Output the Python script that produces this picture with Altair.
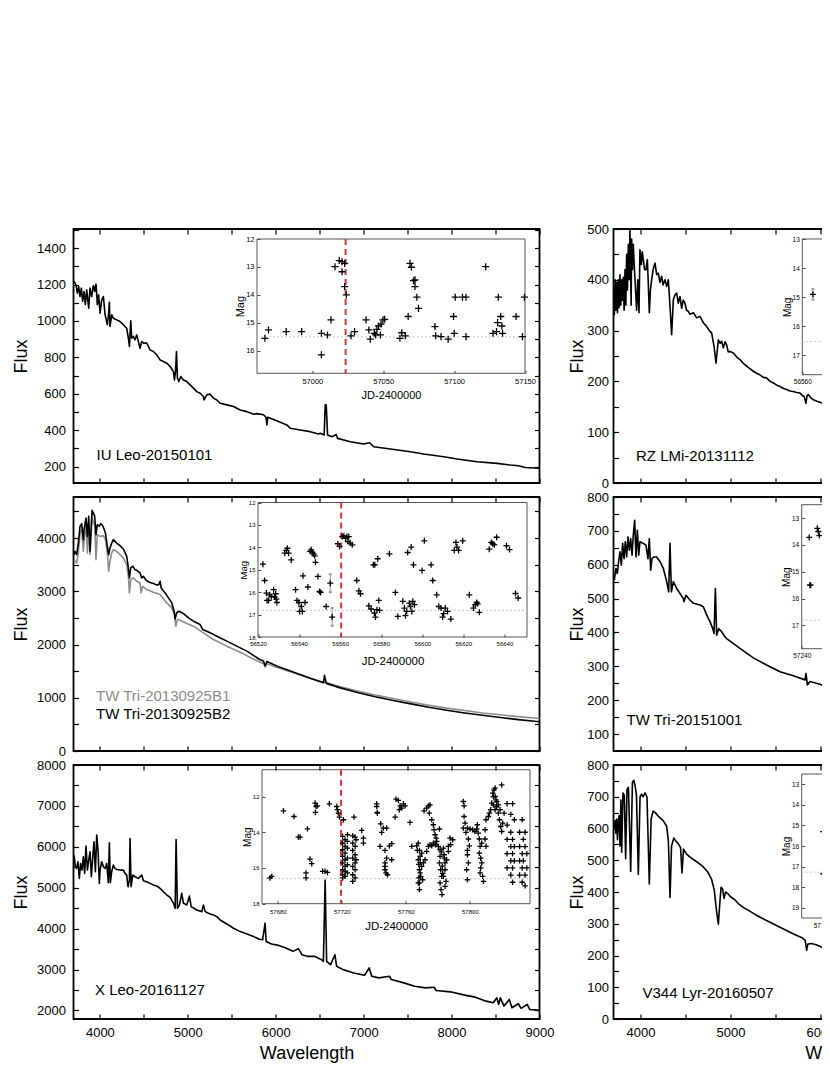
import altair as alt
import pandas as pd

FONT = "Liberation Sans"
CROSS = "M-1,0L1,0M0,-1L0,1"
CAP = "M-1,0L1,0"

# ---------------- spectra (wavelength, flux) ----------------
iu_wl = [3706, 3728, 3744, 3759, 3774, 3789, 3804, 3820, 3835, 3850,
         3873, 3888, 3907, 3926, 3941, 3956, 3971, 3986, 4002, 4021,
         4040, 4059, 4085, 4100, 4108, 4115, 4135, 4153, 4191, 4229,
         4267, 4305, 4324, 4336, 4351, 4362, 4381, 4400, 4419, 4457,
         4476, 4495, 4533, 4571, 4609, 4647, 4685, 4723, 4761, 4799,
         4837, 4848, 4860, 4871, 4882, 4897, 4920, 4951, 4989, 5026,
         5064, 5102, 5140, 5178, 5185, 5216, 5254, 5292, 5330, 5368,
         5444, 5520, 5596, 5672, 5748, 5785, 5861, 5891, 5899, 5910,
         6012, 6126, 6164, 6278, 6392, 6487, 6506, 6551, 6563, 6574,
         6590, 6639, 6688, 6704, 6848, 7000, 7068, 7114, 7304, 7531,
         7683, 7911, 8063, 8291, 8518, 8668, 8760, 8839, 9000]
iu_flux = [1217, 1198, 1153, 1189, 1134, 1180, 1107, 1162, 1089, 1171,
           1070, 1180, 1134, 1195, 1162, 1202, 1089, 1143, 1043, 1116,
           1134, 1034, 979, 1043, 1103, 970, 1034, 1015, 1006, 997,
           979, 960, 905, 860, 1001, 905, 915, 896, 924, 850,
           887, 878, 878, 841, 832, 814, 786, 777, 768, 750,
           722, 676, 722, 832, 687, 667, 695, 676, 667, 649,
           631, 612, 603, 585, 566, 594, 598, 576, 566, 548,
           539, 530, 511, 502, 488, 491, 485, 470, 429, 471,
           452, 429, 411, 401, 392, 379, 383, 374, 539, 539,
           374, 364, 377, 355, 337, 324, 331, 309, 297, 282,
           269, 254, 242, 227, 218, 209, 205, 195, 191]

tw13_b2_wl = [3706, 3717, 3736, 3755, 3774, 3793, 3812, 3820, 3842, 3858,
              3873, 3888, 3911, 3926, 3941, 3956, 3971, 3994, 4009, 4032,
              4047, 4063, 4085, 4100, 4115, 4135, 4153, 4191, 4229, 4267,
              4305, 4324, 4336, 4351, 4374, 4400, 4419, 4457, 4476, 4495,
              4525, 4563, 4609, 4647, 4670, 4685, 4697, 4742, 4780, 4818,
              4845, 4856, 4874, 4897, 4951, 5008, 5064, 5140, 5170, 5254,
              5330, 5444, 5557, 5672, 5816, 5860, 5880, 5900, 6034, 6237,
              6400, 6543, 6555, 6575, 6725, 6929, 7132, 7336, 7538, 7742,
              7945, 8149, 8352, 8555, 8758, 9000]
tw13_b2_flux = [3688, 3750, 3688, 3906, 4219, 4269, 3969, 4156, 4375, 4031,
                4406, 3750, 4519, 4469, 4406, 4063, 4250, 4219, 4269, 4231,
                4169, 4094, 3844, 3688, 3813, 3906, 3969, 3906, 3856, 3794,
                3656, 3438, 3250, 3438, 3469, 3406, 3394, 3344, 3250, 3281,
                3206, 3169, 3144, 3119, 3125, 3188, 3063, 2969, 2875, 2781,
                2625, 2481, 2594, 2625, 2581, 2500, 2438, 2375, 2281, 2219,
                2156, 2063, 1969, 1875, 1719, 1690, 1600, 1680, 1580, 1460,
                1360, 1280, 1420, 1270, 1190, 1100, 1020, 950, 885, 820,
                765, 715, 670, 630, 590, 550]

tw13_b1_wl = [3706, 3736, 3755, 3774, 3793, 3812, 3827, 3842, 3858, 3873,
              3888, 3911, 3926, 3941, 3956, 3971, 4002, 4040, 4063, 4085,
              4100, 4115, 4135, 4153, 4191, 4229, 4267, 4305, 4324, 4336,
              4351, 4381, 4419, 4457, 4468, 4487, 4533, 4609, 4685, 4761,
              4818, 4848, 4863, 4882, 4913, 4989, 5064, 5178, 5292, 5444,
              5596, 5816, 5860, 5880, 5900, 6034, 6237, 6400, 6543, 6575,
              6725, 6929, 7132, 7336, 7538, 7742, 7945, 8149, 8352, 8555,
              8758, 9000]
tw13_b1_flux = [3594, 3531, 3719, 4094, 4156, 3750, 4063, 4250, 3719, 4219,
                3688, 4406, 4281, 4250, 3594, 4063, 4031, 4044, 3969, 3719,
                3375, 3563, 3719, 3781, 3750, 3688, 3625, 3500, 3281, 2969,
                3219, 3250, 3188, 3156, 2969, 3094, 3031, 2981, 2938, 2781,
                2688, 2563, 2344, 2469, 2456, 2394, 2344, 2219, 2094, 1969,
                1856, 1669, 1645, 1580, 1640, 1560, 1450, 1360, 1290, 1285,
                1210, 1125, 1050, 985, 920, 860, 805, 760, 715, 680,
                645, 610]

xleo_wl = [3706, 3721, 3736, 3751, 3766, 3781, 3797, 3812, 3827, 3842,
           3858, 3873, 3888, 3903, 3918, 3933, 3949, 3964, 3979, 3994,
           4002, 4021, 4040, 4059, 4078, 4096, 4108, 4119, 4134, 4153,
           4172, 4191, 4229, 4267, 4286, 4305, 4320, 4336, 4343, 4355,
           4374, 4400, 4438, 4476, 4495, 4533, 4571, 4609, 4647, 4685,
           4723, 4761, 4799, 4837, 4856, 4867, 4882, 4905, 4931, 4951,
           4989, 5019, 5038, 5102, 5159, 5178, 5197, 5254, 5292, 5330,
           5368, 5444, 5520, 5596, 5672, 5748, 5816, 5851, 5879, 5891,
           5952, 6034, 6115, 6196, 6257, 6298, 6359, 6440, 6522, 6542,
           6562, 6579, 6624, 6673, 6693, 6766, 6888, 7010, 7063, 7092,
           7173, 7295, 7315, 7458, 7580, 7702, 7803, 7824, 7986, 8149,
           8271, 8393, 8474, 8515, 8535, 8555, 8596, 8657, 8686, 8759,
           8791, 8860, 8889, 9000]
xleo_flux = [5797, 5512, 5472, 5634, 5228, 5593, 5431, 5756, 5350, 6016,
             5431, 5675, 5878, 5268, 5715, 6122, 5390, 6285, 5919, 5106,
             5431, 5634, 5512, 5472, 5593, 5122, 6098, 5122, 5390, 5553,
             5472, 5447, 5431, 5431, 5350, 5309, 5024, 5187, 6203, 5024,
             5309, 5268, 5228, 5309, 5171, 5146, 5106, 5065, 5041, 4984,
             4902, 4821, 4764, 4618, 4496, 6179, 4496, 4577, 4862, 4618,
             4577, 4797, 4537, 4455, 4415, 4577, 4415, 4358, 4333, 4293,
             4211, 4114, 4008, 3927, 3870, 3805, 3740, 3727, 4133, 3687,
             3622, 3590, 3525, 3444, 3509, 3362, 3322, 3322, 3241, 3200,
             5187, 3200, 3119, 3362, 3078, 2997, 2916, 2860, 3038, 2835,
             2795, 2835, 2754, 2673, 2592, 2551, 2568, 2487, 2454, 2373,
             2324, 2227, 2187, 2308, 2146, 2308, 2105, 2268, 2065, 2162,
             2049, 2146, 2024, 2000]

rz_wl = [3709, 3718, 3726, 3735, 3744, 3752, 3762, 3772, 3781, 3791,
         3800, 3809, 3818, 3828, 3837, 3846, 3855, 3865, 3874, 3883,
         3890, 3896, 3902, 3910, 3920, 3930, 3939, 3948, 3957, 3970,
         3983, 3994, 4010, 4020, 4031, 4045, 4061, 4076, 4085, 4098,
         4110, 4124, 4140, 4161, 4180, 4198, 4216, 4235, 4250, 4272,
         4291, 4309, 4328, 4346, 4365, 4383, 4402, 4420, 4439, 4457,
         4475, 4494, 4512, 4531, 4550, 4587, 4625, 4661, 4700, 4735,
         4765, 4791, 4817, 4839, 4865, 4885, 4902, 4920, 4940, 4957,
         4975, 4994, 5031, 5070, 5105, 5140, 5179, 5215, 5253, 5290,
         5327, 5365, 5401, 5440, 5476, 5510, 5550, 5590, 5624, 5660,
         5698, 5735, 5772, 5800, 5816, 5839, 5850, 5865, 5890, 5920,
         5960, 5994, 6050, 6105]
rz_flux = [330, 400, 340, 395, 335, 400, 345, 410, 350, 400,
           360, 405, 340, 420, 350, 450, 380, 470, 400, 500,
           420, 350, 480, 420, 470, 430, 400, 370, 340, 400,
           335, 459, 430, 455, 440, 420, 420, 440, 400, 335,
           380, 400, 420, 433, 410, 413, 395, 407, 390, 400,
           387, 400, 348, 292, 361, 370, 374, 354, 367, 344,
           360, 354, 340, 338, 332, 335, 325, 328, 315, 308,
           300, 295, 269, 236, 282, 275, 279, 266, 278, 272,
           258, 259, 256, 248, 243, 236, 230, 225, 220, 216,
           213, 208, 207, 200, 197, 193, 190, 186, 184, 181,
           180, 178, 177, 172, 171, 157, 172, 174, 168, 164,
           161, 159, 156, 154]

tw15_wl = [3709, 3728, 3743, 3757, 3772, 3787, 3802, 3817, 3831, 3846,
           3861, 3876, 3891, 3906, 3920, 3935, 3950, 3965, 3980, 3994,
           4031, 4061, 4083, 4098, 4113, 4128, 4150, 4180, 4217, 4254,
           4291, 4313, 4328, 4343, 4365, 4402, 4439, 4476, 4483, 4505,
           4550, 4587, 4661, 4698, 4735, 4772, 4802, 4817, 4832, 4846,
           4869, 4902, 4939, 4957, 5105, 5253, 5401, 5550, 5698, 5828,
           5839, 5854, 5883, 5994, 6105]
tw15_flux = [555, 589, 574, 609, 638, 599, 663, 618, 668, 623,
             682, 643, 677, 628, 687, 731, 623, 702, 628, 668,
             663, 658, 618, 677, 584, 618, 623, 623, 609, 589,
             550, 520, 663, 520, 550, 530, 515, 500, 491, 510,
             496, 486, 481, 476, 452, 432, 412, 397, 530, 392,
             412, 402, 387, 382, 353, 325, 304, 284, 272, 260,
             279, 245, 255, 247, 235]

v344_wl = [3709, 3718, 3726, 3735, 3744, 3752, 3762, 3772, 3782, 3791,
           3805, 3820, 3835, 3850, 3866, 3891, 3910, 3925, 3940, 3955,
           3976, 3995, 4012, 4030, 4050, 4072, 4098, 4118, 4140, 4165,
           4200, 4250, 4290, 4310, 4328, 4345, 4370, 4395, 4420, 4445,
           4461, 4478, 4510, 4550, 4600, 4650, 4700, 4750, 4790, 4820,
           4845, 4865, 4880, 4895, 4912, 4928, 4945, 4970, 5000, 5050,
           5100, 5150, 5200, 5300, 5400, 5500, 5600, 5700, 5800, 5830,
           5846, 5860, 5900, 5950, 6000, 6105]
v344_flux = [600, 625, 585, 630, 565, 620, 640, 545, 690, 525,
             712, 705, 505, 722, 730, 465, 745, 752, 735, 705,
             455, 700, 708, 700, 712, 700, 425, 630, 655, 650,
             638, 625, 608, 560, 383, 545, 570, 560, 552, 540,
             460, 535, 520, 510, 500, 490, 478, 462, 440, 405,
             340, 299, 360, 415, 410, 380, 400, 395, 385, 375,
             360, 350, 342, 325, 310, 296, 282, 268, 255, 248,
             217, 236, 238, 234, 228, 212]

# ---------------- light curves (JD-2400000, mag) ----------------
iu_lc_jd = [56966.6, 56969.1, 56981.6, 56992.5, 57006.4, 57010.7, 57006.4, 57013.2, 57016.0, 57019.0,
            57021.0, 57021.0, 57022.8, 57022.8, 57024.0, 57027.3, 57029.8, 57037.9, 57039.9, 57040.9,
            57043.7, 57044.7, 57045.5, 57046.7, 57048.0, 57048.5, 57049.8, 57051.0, 57061.8, 57063.1,
            57065.6, 57067.6, 57068.9, 57069.9, 57071.4, 57072.4, 57072.4, 57073.7, 57074.9, 57086.5,
            57087.0, 57090.8, 57095.8, 57099.6, 57100.1, 57100.8, 57105.9, 57108.4, 57108.4, 57122.3,
            57127.4, 57129.9, 57131.2, 57130.7, 57132.9, 57133.7, 57134.2, 57143.7, 57148.2, 57149.6]
iu_lc_mag = [15.55, 15.25, 15.31, 15.31, 15.37, 15.43, 16.14, 14.89, 12.99, 12.77,
             12.81, 13.17, 12.87, 13.70, 14.00, 15.46, 15.31, 14.89, 15.25, 15.58,
             15.37, 15.43, 15.23, 15.11, 15.43, 15.04, 14.89, 14.87, 15.55, 15.35,
             15.46, 14.77, 12.87, 13.01, 13.49, 13.70, 13.46, 14.08, 14.48, 15.13,
             15.46, 15.49, 15.58, 14.77, 15.37, 14.08, 14.08, 14.08, 15.49, 12.99,
             15.37, 15.31, 14.08, 14.99, 14.77, 15.11, 15.37, 14.77, 15.49, 14.08]

tw13_lc_jd = [56522.4, 56523.2, 56524.1, 56524.4, 56525.2, 56525.7, 56526.5, 56527.6, 56528.1, 56528.6,
              56528.9, 56529.2, 56533.0, 56533.8, 56534.3, 56534.9, 56536.2, 56538.3, 56539.0, 56539.9,
              56540.3, 56541.1, 56541.6, 56541.9, 56542.9, 56544.3, 56545.4, 56545.9, 56546.4, 56547.1,
              56547.6, 56548.0, 56549.2, 56550.0, 56550.5, 56553.2, 56555.2, 56556.1, 56558.9, 56559.7,
              56561.0, 56561.8, 56562.6, 56563.3, 56563.8, 56564.2, 56564.9, 56565.9, 56568.1, 56569.1,
              56569.9, 56574.0, 56575.1, 56576.2, 56576.9, 56576.7, 56577.2, 56577.9, 56578.3, 56578.8,
              56579.2, 56584.0, 56586.9, 56588.1, 56590.5, 56591.3, 56591.8, 56592.4, 56592.9, 56593.7,
              56594.2, 56594.6, 56594.9, 56595.4, 56595.7, 56596.2, 56599.9, 56601.0, 56604.3, 56605.1,
              56607.0, 56608.0, 56609.1, 56609.9, 56610.4, 56611.2, 56612.3, 56613.9, 56615.6, 56616.4,
              56616.9, 56617.7, 56619.7, 56622.9, 56624.9, 56625.8, 56626.5, 56627.0, 56627.8, 56632.6,
              56633.6, 56634.3, 56635.1, 56636.2, 56641.0, 56642.5, 56645.4, 56646.7]
tw13_lc_mag = [14.75, 15.48, 16.04, 16.37, 16.37, 16.12, 16.19, 15.89, 16.22, 16.07,
               16.31, 16.46, 14.26, 14.14, 14.04, 14.26, 14.56, 15.89, 16.37, 16.46,
               16.86, 16.64, 16.86, 15.27, 16.46, 15.77, 14.18, 14.11, 14.23, 14.29,
               14.38, 14.67, 15.30, 15.97, 16.01, 16.64, 15.60, 17.11, 13.84, 13.96,
               13.52, 13.49, 13.59, 13.52, 13.74, 13.52, 13.81, 13.89, 15.48, 15.94,
               16.07, 16.61, 16.75, 14.78, 14.78, 16.93, 17.11, 16.78, 14.51, 16.37,
               16.81, 14.29, 16.01, 17.08, 16.41, 16.71, 17.05, 16.86, 14.23, 16.49,
               16.64, 13.99, 16.86, 16.41, 14.78, 16.56, 15.03, 13.71, 14.78, 15.48,
               16.12, 16.64, 16.71, 17.11, 16.96, 16.71, 16.86, 17.20, 14.14, 13.78,
               13.99, 14.14, 13.71, 16.12, 16.71, 16.56, 16.46, 16.52, 16.90, 14.08,
               13.78, 13.84, 13.89, 13.55, 13.93, 14.10, 16.06, 16.26]
tw13_err_jd = [56555.2, 56556.1]
tw13_err_lo = [15.2, 16.7]
tw13_err_hi = [16.0, 17.5]

xleo_lc_jd = [
    57675.1, 57676.2, 57683.5, 57690.1, 57692.8, 57693.9, 57698.5, 57697.6, 57697.6, 57700.1,
    57701.2, 57703.3, 57703.5, 57703.9, 57704.7, 57708.0, 57709.5, 57711.0, 57712.2, 57716.8,
    57717.2, 57717.8, 57718.5, 57721.0,
    57720.5, 57720.5, 57720.5, 57720.5, 57720.5, 57720.5, 57720.5, 57720.5,
    57722.0, 57722.0, 57722.0, 57722.0, 57722.0, 57722.0, 57722.0,
    57723.5, 57723.5, 57723.5, 57723.5, 57723.5, 57723.5,
    57726.8, 57726.8, 57726.8, 57726.8, 57726.8, 57726.8, 57726.8,
    57728.3, 57728.3, 57728.3, 57728.3, 57728.3, 57728.3,
    57728.9, 57728.9, 57727.6, 57732.4, 57733.5, 57733.5,
    57741.8, 57741.8, 57742.2, 57742.2, 57744.3, 57744.9, 57743.9, 57745.9, 57748.0, 57749.7,
    57751.2, 57747.0, 57748.0, 57747.0, 57747.0, 57747.0, 57747.6, 57748.5, 57751.2,
    57753.9, 57755.3, 57756.4, 57757.4, 57758.5, 57755.9, 57759.5, 57753.3, 57762.6, 57763.7,
    57767.2, 57766.8,
    57767.8, 57767.8, 57767.8, 57768.5, 57768.5, 57768.5, 57768.5, 57768.9, 57768.9, 57769.3,
    57769.9, 57769.9, 57770.5, 57768.0, 57769.0, 57768.2,
    57771.0, 57772.0, 57773.0, 57774.1, 57775.1, 57776.2, 57777.2, 57771.4, 57773.0, 57774.1,
    57775.1, 57774.7, 57776.2, 57777.2, 57777.6, 57778.3, 57778.9, 57779.3, 57778.5,
    57781.0, 57780.3, 57781.4, 57781.4, 57781.0, 57781.8, 57782.4, 57781.4, 57782.0, 57782.6,
    57783.5, 57783.9, 57784.5, 57784.5, 57783.5, 57785.1, 57784.5, 57785.5, 57786.6, 57787.6,
    57788.0, 57789.3, 57786.6, 57782.8, 57783.0, 57784.0, 57782.2,
    57795.9, 57796.4, 57796.4, 57797.0, 57795.9, 57797.6, 57798.5, 57799.1, 57799.7, 57798.5,
    57798.5, 57799.1, 57798.0, 57798.5, 57800.1, 57801.8, 57803.2, 57804.3, 57804.7,
    57805.3, 57805.9, 57806.4, 57805.9, 57806.8, 57807.4, 57806.8, 57806.4, 57808.0, 57808.5,
    57807.4, 57809.5, 57809.5, 57810.1,
    57810.1, 57811.6, 57812.2, 57813.0, 57813.7, 57814.7, 57815.1, 57815.8, 57814.3, 57816.4,
    57816.8, 57817.8, 57818.5, 57819.3, 57819.9, 57820.5, 57821.4, 57819.9, 57815.8, 57816.8,
    57814.7, 57817.8, 57818.9, 57815.8,
    57823.3, 57823.3, 57823.3, 57823.3, 57823.3, 57825.6, 57825.6, 57825.6, 57825.6, 57825.6,
    57826.7, 57826.7, 57826.7, 57826.7, 57826.7, 57827.8, 57827.8, 57827.8,
    57831.1, 57831.1, 57831.1, 57831.1, 57832.7, 57832.7, 57832.7, 57832.7,
    57833.4, 57833.4, 57834.5, 57834.5, 57834.5, 57834.5, 57835.6, 57835.6]
xleo_lc_mag = [
    16.56, 16.47, 12.80, 13.12, 14.27, 14.27, 13.81, 16.28, 16.56, 15.50,
    15.76, 12.37, 12.89, 12.56, 12.52, 16.19, 16.19, 16.25, 12.41, 12.56,
    12.74, 12.93, 13.15, 13.30,
    14.23, 14.61, 14.98, 15.35, 15.72, 16.10, 16.38, 16.56,
    14.42, 14.79, 15.17, 15.54, 15.91, 16.19, 16.47,
    14.14, 14.51, 14.89, 15.45, 15.82, 16.28,
    14.20, 14.61, 15.02, 15.45, 15.91, 16.38, 16.75,
    14.27, 14.79, 15.26, 15.72, 16.10, 16.56,
    14.42, 15.54, 13.15, 13.90, 14.33, 14.61,
    12.41, 12.56, 12.89, 12.93, 13.53, 14.01, 14.79, 13.77, 13.77, 14.76,
    14.64, 15.02, 15.45, 15.72, 15.91, 16.10, 16.28, 16.38, 15.54,
    12.15, 12.22, 12.52, 12.65, 12.41, 12.74, 12.52, 13.15, 13.45, 14.79,
    15.02, 14.76,
    14.61, 15.54, 16.84, 15.02, 16.10, 16.84, 17.21, 15.35, 16.28, 16.47,
    15.17, 15.91, 16.66, 15.80, 15.70, 16.55,
    15.72, 15.54, 15.07, 14.79, 14.70, 14.76, 14.61, 12.80, 12.65, 12.52,
    12.47, 12.93, 13.30, 13.58, 13.86, 14.14, 14.33, 14.51, 14.70,
    13.82, 14.79, 14.98, 15.35, 15.72, 16.10, 16.47, 16.84, 17.21, 17.49,
    14.89, 15.26, 15.72, 16.10, 16.47, 16.75, 17.03, 15.54, 14.79, 14.33,
    14.70, 14.42, 15.07, 15.90, 16.30, 15.45, 15.10,
    12.28, 12.52, 13.12, 13.49, 13.77, 14.01, 13.77, 14.38, 14.76, 15.02,
    15.26, 15.72, 16.10, 16.66, 13.82, 13.86, 13.96, 13.82, 13.58,
    14.05, 14.38, 14.79, 15.17, 15.45, 15.72, 16.00, 16.28, 16.47, 16.75,
    14.61, 13.86, 14.38, 14.79,
    13.30, 13.12, 12.93, 12.74, 12.37, 12.00, 11.63, 11.53, 11.81, 12.19,
    12.56, 12.93, 13.30, 13.68, 13.96, 13.49, 12.93, 11.35, 12.00, 12.28,
    12.47, 12.47, 12.74, 12.74,
    12.4, 13.6, 14.4, 15.2, 16.0, 13.0, 14.0, 14.8, 15.6, 16.4,
    12.4, 14.4, 15.2, 16.0, 16.8, 13.3, 14.8, 15.6,
    14.0, 14.8, 15.6, 16.4, 13.3, 15.2, 16.0, 16.8,
    14.4, 15.6, 14.0, 14.8, 16.4, 17.0, 15.2, 16.0]

rz_lc_jd = [56566.2, 56573.6, 56575.6]
rz_lc_mag = [14.90, 14.85, 15.60]
rz_err_jd = [56566.2, 56573.6]
rz_err_lo = [14.72, 14.75]
rz_err_hi = [15.08, 14.95]

tw15_lc_jd = [57244.4, 57249.1, 57249.7, 57250.3, 57254.6, 57255.5, 57244.8, 57245.2]
tw15_lc_mag = [13.72, 13.38, 13.50, 13.65, 14.30, 15.05, 15.50, 15.50]

v344_lc_jd = [57100.6, 57100.6]
v344_lc_mag = [15.30, 17.35]

# ---------------- tick values ----------------
WL_TICKS = [4000, 4500, 5000, 5500, 6000, 6500, 7000, 7500, 8000, 8500, 9000]
IU_YTICKS = [200, 300, 400, 500, 600, 700, 800, 900, 1000, 1100, 1200, 1300, 1400, 1500]
TW13_YTICKS = [0, 500, 1000, 1500, 2000, 2500, 3000, 3500, 4000, 4500]
XLEO_YTICKS = [2000, 2500, 3000, 3500, 4000, 4500, 5000, 5500, 6000, 6500, 7000, 7500, 8000]
RZ_YTICKS = [0, 50, 100, 150, 200, 250, 300, 350, 400, 450, 500]
TW15_YTICKS = [100, 150, 200, 250, 300, 350, 400, 450, 500, 550, 600, 650, 700, 750, 800]
V344_YTICKS = [0, 50, 100, 150, 200, 250, 300, 350, 400, 450, 500, 550, 600, 650, 700, 750, 800]

LW, RW, H = 466, 477, 254


def inset_layer(ins, height):
    ix = alt.Scale(domain=ins["xdom"], range=ins["xr"], nice=False, zero=False)
    iy = alt.Scale(domain=ins["ydom"], range=ins["yr"], nice=False, zero=False)
    ixa = alt.Axis(orient="bottom", values=ins["xticks"], format="d",
                   offset=ins["yr"][1] - 3 - height, tickSize=3, tickColor="#444",
                   domain=False, grid=False, labelFontSize=ins["tfs"], labelPadding=ins["lpx"],
                   labelFlush=False, labelOverlap=False, title="JD-2400000",
                   titleFontSize=ins["jfs"], titleFontWeight="normal", titlePadding=ins["jpad"],
                   zindex=1)
    iya = alt.Axis(orient="left", values=ins["yticks"], format="d",
                   offset=-(ins["xr"][0] + 3), tickSize=3, tickColor="#444",
                   domain=False, grid=False, labelFontSize=ins["tfs"], labelPadding=3,
                   labelFlush=False, labelOverlap=False, title="Mag",
                   titleFontSize=ins["mfs"], titleFontWeight="normal", titlePadding=0,
                   zindex=1)

    def X(f):
        return alt.X(f, scale=ix, axis=ixa)

    def Y(f):
        return alt.Y(f, scale=iy, axis=iya)

    fdf = pd.DataFrame({"a": [ins["xdom"][0]], "b": [ins["xdom"][1]],
                        "c": [ins["ydom"][0]], "d": [ins["ydom"][1]],
                        "q": [ins["quiet"]], "r": [ins["date"]]})
    layers = [
        alt.Chart(fdf).mark_rect(fill="white", stroke="#555", strokeWidth=1).encode(
            x=X("a:Q"), x2="b:Q", y=Y("c:Q"), y2="d:Q"),
        alt.Chart(fdf).mark_rule(color="#c4c4c4", strokeDash=[2, 2], strokeWidth=1).encode(
            x=X("a:Q"), x2="b:Q", y=Y("q:Q")),
    ]
    if ins["date"] is not None:
        layers.append(alt.Chart(fdf).mark_rule(color="#e8322d", strokeDash=[6, 4], strokeWidth=2).encode(
            x=X("r:Q"), y=Y("c:Q"), y2="d:Q"))
    if ins.get("err"):
        ejd, elo, ehi = ins["err"]
        edf = pd.DataFrame({"jd": ejd, "lo": elo, "hi": ehi})
        layers.append(alt.Chart(edf).mark_rule(color="#999", strokeWidth=1).encode(
            x=X("jd:Q"), y=Y("lo:Q"), y2="hi:Q"))
        layers.append(alt.Chart(edf).mark_point(shape=CAP, filled=False, size=9, color="#999", opacity=1).encode(
            x=X("jd:Q"), y=Y("lo:Q")))
        layers.append(alt.Chart(edf).mark_point(shape=CAP, filled=False, size=9, color="#999", opacity=1).encode(
            x=X("jd:Q"), y=Y("hi:Q")))
    pdf = pd.DataFrame({"jd": ins["jd"], "mag": ins["mag"]})
    layers.append(alt.Chart(pdf).mark_point(shape=CROSS, filled=False, color="black", opacity=1,
                                            size=ins["psize"], strokeWidth=1.3).encode(
        x=X("jd:Q"), y=Y("mag:Q")))
    return alt.layer(*layers)


def panel(spectra, texts, ydom, yticks, ystep, width, bottom, lab_pad, title_pad, ins):
    xs = alt.Scale(domain=[3700, 9000], nice=False, zero=False)
    ys = alt.Scale(domain=ydom, nice=False, zero=False)
    xa = alt.Axis(orient="bottom", values=WL_TICKS, offset=-5, tickSize=5, tickWidth=1.2,
                  tickColor="black", domain=False, grid=False, labels=bottom,
                  labelExpr="datum.value % 1000 == 0 ? format(datum.value, 'd') : ''",
                  labelFontSize=13, labelPadding=7.5, labelFlush=False, labelOverlap=False,
                  title="Wavelength" if bottom else None, titleFontSize=18,
                  titleFontWeight="normal", titlePadding=5, zindex=1)
    ya = alt.Axis(orient="left", values=yticks, offset=-5, tickSize=5, tickWidth=1.2,
                  tickColor="black", domain=False, grid=False,
                  labelExpr="datum.value %% %d == 0 ? format(datum.value, 'd') : ''" % ystep,
                  labelFontSize=13, labelPadding=lab_pad, labelFlush=False, labelOverlap=False,
                  title="Flux", titleFontSize=18, titleFontWeight="normal",
                  titlePadding=title_pad, zindex=1)
    main = []
    for wl, fl, color in spectra:
        df = pd.DataFrame({"wl": wl, "flux": fl})
        main.append(alt.Chart(df).mark_line(color=color, strokeWidth=1.6, strokeJoin="round").encode(
            x=alt.X("wl:Q", scale=xs, axis=xa), y=alt.Y("flux:Q", scale=ys, axis=ya)))
    for t, px, py, color in texts:
        main.append(alt.Chart(pd.DataFrame({"t": [t]})).mark_text(
            align="left", baseline="middle", font=FONT, fontSize=15, color=color).encode(
            x=alt.value(px), y=alt.value(py), text="t:N"))
    df0 = pd.DataFrame({"wl": spectra[0][0], "flux": spectra[0][1]})
    mirror = alt.Chart(df0).mark_point(opacity=0, size=1).encode(
        x=alt.X("wl:Q", scale=xs, axis=alt.Axis(orient="top", values=WL_TICKS, offset=-5, tickSize=5,
                                                tickWidth=1.2, tickColor="black", domain=False,
                                                grid=False, labels=False, title=None, zindex=1)),
        y=alt.Y("flux:Q", scale=ys, axis=alt.Axis(orient="right", values=yticks, offset=-5, tickSize=5,
                                                  tickWidth=1.2, tickColor="black", domain=False,
                                                  grid=False, labels=False, title=None, zindex=1)))
    return alt.layer(inset_layer(ins, H), mirror, alt.layer(*main)).resolve_scale(
        x="independent", y="independent").properties(width=width, height=H)


p1 = panel([(iu_wl, iu_flux, "black")],
           [("IU Leo-20150101", 23, 226, "black")],
           [110, 1505], IU_YTICKS, 200, LW, False, 8, 6,
           dict(xdom=[56961, 57150], xr=[183.5, 451.5], ydom=[12, 16.8], yr=[10, 144.3],
                xticks=[57000, 57050, 57100, 57150], yticks=[12, 13, 14, 15, 16],
                quiet=15.5, date=57023.5, jd=iu_lc_jd, mag=iu_lc_mag, psize=50,
                tfs=7.5, lpx=4, jfs=11, jpad=5, mfs=11))
p2 = panel([(tw13_b1_wl, tw13_b1_flux, "#8c8c8c"), (tw13_b2_wl, tw13_b2_flux, "black")],
           [("TW Tri-20130925B1", 22.5, 199, "#8c8c8c"), ("TW Tri-20130925B2", 22.5, 216.5, "black")],
           [0, 4770], TW13_YTICKS, 1000, LW, False, 8, 6,
           dict(xdom=[56520, 56651], xr=[184.5, 453.5], ydom=[12, 18], yr=[5.5, 140],
                xticks=[56520, 56540, 56560, 56580, 56600, 56620, 56640], yticks=[12, 13, 14, 15, 16, 17, 18],
                quiet=16.81, date=56560.5, jd=tw13_lc_jd, mag=tw13_lc_mag, psize=36,
                err=(tw13_err_jd, tw13_err_lo, tw13_err_hi),
                tfs=6, lpx=3, jfs=11.5, jpad=9, mfs=9.5))
p3 = panel([(xleo_wl, xleo_flux, "black")],
           [("X Leo-20161127", 21.5, 225, "black")],
           [1790, 8000], XLEO_YTICKS, 1000, LW, True, 8, 6,
           dict(xdom=[57670.1, 57837.6], xr=[188.5, 456.5], ydom=[10.5, 18], yr=[4.7, 138.7],
                xticks=[57680, 57720, 57760, 57800, 57840], yticks=[12, 14, 16, 18],
                quiet=16.6, date=57719.5, jd=xleo_lc_jd, mag=xleo_lc_mag, psize=30,
                tfs=6, lpx=5, jfs=11.5, jpad=6, mfs=10))
r1 = panel([(rz_wl, rz_flux, "black")],
           [("RZ LMi-20131112", 22.5, 227, "black")],
           [0, 500], RZ_YTICKS, 100, RW, False, 5, 0,
           dict(xdom=[56560, 56700], xr=[188.8, 428.8], ydom=[13, 17.66], yr=[10, 145.7],
                xticks=[56560, 56600, 56640, 56680], yticks=[13, 14, 15, 16, 17],
                quiet=16.52, date=None, jd=rz_lc_jd, mag=rz_lc_mag, psize=36,
                err=(rz_err_jd, rz_err_lo, rz_err_hi),
                tfs=6.5, lpx=4, jfs=11, jpad=6, mfs=10))
r2 = panel([(tw15_wl, tw15_flux, "black")],
           [("TW Tri-20151001", 13, 223, "black")],
           [50, 800], TW15_YTICKS, 100, RW, False, 5, 0,
           dict(xdom=[57240, 57380], xr=[188.2, 428.2], ydom=[12.5, 17.87], yr=[7.7, 151.7],
                xticks=[57240, 57280, 57320, 57360], yticks=[13, 14, 15, 16, 17],
                quiet=16.81, date=None, jd=tw15_lc_jd, mag=tw15_lc_mag, psize=36,
                tfs=6.5, lpx=4, jfs=11, jpad=6, mfs=10))
r3 = panel([(v344_wl, v344_flux, "black")],
           [("V344 Lyr-20160507", 29, 228, "black")],
           [0, 800], V344_YTICKS, 100, RW, True, 5, 0,
           dict(xdom=[57088, 57228], xr=[188.2, 428.2], ydom=[12.5, 19.5], yr=[9, 153],
                xticks=[57100, 57150, 57200], yticks=[13, 14, 15, 16, 17, 18, 19],
                quiet=17.27, date=None, jd=v344_lc_jd, mag=v344_lc_mag, psize=36,
                tfs=6.5, lpx=4, jfs=11, jpad=6, mfs=10))

# Fixed-size canvas (the figure is cropped on the right like the reference):
# origin of the first plot area at (65.5, 221) inside an 814 x 1059 canvas,
# so the page (with its 8px margins) stays within the 830 x 1075 window.
PAD_L, PAD_T = 65.5, 221
CANVAS_W, CANVAS_H = 814, 1059

chart = alt.concat(p1, r1, p2, r2, p3, r3, columns=2,
                   spacing={"row": 14, "column": 74}, bounds="flush", align="each").properties(
    autosize=alt.AutoSizeParams(type="none"),
    padding={"left": PAD_L, "top": PAD_T, "right": CANVAS_W - PAD_L, "bottom": CANVAS_H - PAD_T}
).configure_view(stroke="black", strokeWidth=1.8).configure_axis(
    labelFont=FONT, titleFont=FONT, labelColor="black", titleColor="black"
)

chart.save("out.html", embed_options={"renderer": "svg", "actions": False})
